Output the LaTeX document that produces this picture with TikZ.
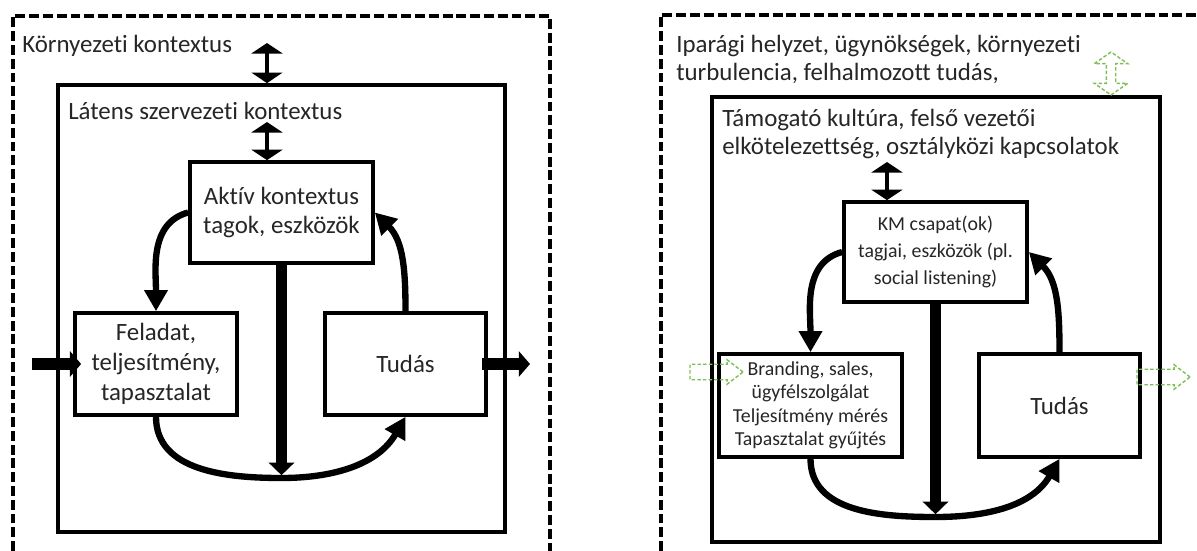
\documentclass[tikz,border=0pt]{standalone}
\usepackage{fontspec}
\setmainfont{Carlito}[Ligatures=NoCommon]
\usepackage{xcolor}
\definecolor{inkgray}{RGB}{38,38,38}
\definecolor{softgreen}{RGB}{125,190,85}
\usetikzlibrary{arrows.meta,shapes.arrows}
\newcommand{\MainSize}{\fontsize{17.7}{21.3}\selectfont}
\newcommand{\SmallSize}{\fontsize{14.1}{16.7}\selectfont}

\begin{document}
\begin{tikzpicture}[
  x=0.025cm, y=0.025cm,
  font=\MainSize, text=inkgray,
  % --- diagram style: edit visual look here ---------------------------
  frame/.style={draw=black, line width=2.6pt, dash pattern=on 7pt off 2.8pt},
  layer/.style={draw=black, line width=2.6pt, inner sep=0pt},
  stage/.style={draw=black, line width=2.6pt, fill=white, align=center,
                inner sep=2pt},
  ctx/.style={inner sep=0pt, align=left},
  flow/.style={line width=4.5pt, -{Triangle[width=16pt,length=15pt]}},
  feed/.style={line width=7.5pt, -{Triangle[width=18pt,length=9pt]}},
  link/.style={line width=3.5pt,
               {Triangle[width=22pt,length=7.5pt]}-{Triangle[width=22pt,length=7.5pt]}},
  io/.style={line width=8.5pt, -{Triangle[width=18pt,length=8pt]}},
  ghost/.style={draw=softgreen, line width=1pt,
                dash pattern=on 2.5pt off 1.5pt, inner xsep=0pt},
  % ---------------------------------------------------------------------
]
  \useasboundingbox (0,0) rectangle (1197,-551);

  % Left model — environment frame and latent context
  \draw[frame] (13,-551) -- (13,-16) -- (550,-16) -- (550,-551);
  \node[layer, minimum width=11.175cm, minimum height=11.175cm] (latL) at (281.5,-308.5) {};
  \node[ctx, anchor=base west] (envTxtL) at (22,-53) {Környezeti kontextus};
  \node[ctx, anchor=base west] (latTxtL) at (68,-120) {Látens szervezeti kontextus};

  % Left model — cycle boxes
  \node[stage, minimum width=4.575cm, minimum height=2.525cm] (act) at (281.5,-212.5)
    {Aktív kontextus\\tagok, eszközök};
  \node[stage, minimum width=4.05cm, minimum height=2.55cm] (task) at (156,-364)
    {Feladat,\\teljesítmény,\\tapasztalat};
  \node[stage, minimum width=4.025cm, minimum height=2.55cm] (knowL) at (405.5,-364) {Tudás};

  \coordinate (envL) at (267,-43);
  \coordinate (latArrL) at (267,-122);
  \coordinate (loopL) at (281.5,-478);
  \coordinate (inL) at (32,-364);
  \coordinate (outL) at (530,-364);

  % Left model — connectors
  \draw[link] (envL) -- (envL |- latL.north);
  \draw[link] (latArrL) -- (latArrL |- act.north);
  \draw[flow] (act.west) to[out=195,in=90] (task.north);
  \draw[flow] (knowL.north) to[out=90,in=-45] (act.east);
  \draw[flow] (task.south) to[out=-90,in=180] (loopL) to[out=0,in=-120] (knowL.south);
  \draw[feed, shorten >=2pt] (act.south) -- (loopL);
  \draw[io, shorten >=-0.2cm] (inL) -- (task.west);
  \draw[io, shorten <=-0.15cm] (knowL.east) -- (outL);

  % Right model — environment frame and organisational context
  \draw[frame] (661,-551) -- (661,-15) -- (1197,-15);
  \node[layer, minimum width=11.2cm, minimum height=11.125cm] (latR) at (936,-319.5) {};
  \node[ctx, anchor=north west, font=\fontsize{17.7}{19.6}\selectfont] (envTxtR) at (676,-35)
    {Iparági helyzet, ügynökségek, környezeti\\turbulencia, felhalmozott tudás,};
  \node[ctx, anchor=north west, font=\fontsize{17.7}{19.8}\selectfont] (supTxtR) at (722,-109)
    {Támogató kultúra, felső vezetői\\elkötelezettség, osztályközi kapcsolatok};

  % Right model — cycle boxes
  \node[stage, minimum width=4.575cm, minimum height=2.5cm,
        font=\fontsize{14.1}{19}\selectfont] (team) at (935.5,-252)
    {KM csapat(ok)\\tagjai, eszközök (pl.\\social listening)};
  \node[stage, minimum width=4.575cm, minimum height=2.575cm, font=\SmallSize] (brand) at (810.5,-405.5)
    {Branding, sales,\\ügyfélszolgálat\\Teljesítmény mérés\\Tapasztalat gyűjtés};
  \node[stage, minimum width=4.025cm, minimum height=2.575cm] (knowR) at (1059.5,-405.5) {Tudás};

  % Right model — dashed green hints
  \node[ghost, double arrow, rotate=90, inner ysep=0.1cm, minimum height=1.075cm,
        double arrow head extend=0.3cm, double arrow tip angle=110] (envLinkR) at (1111,-73.5) {};
  \node[ghost, single arrow, inner ysep=0.175cm, minimum height=1.325cm,
        single arrow head extend=0.1125cm, single arrow tip angle=75] (inR) at (711.5,-372) {};
  \node[ghost, single arrow, inner ysep=0.175cm, minimum height=1.325cm,
        single arrow head extend=0.1125cm, single arrow tip angle=75] (outR) at (1158.5,-377) {};

  \coordinate (supArrR) at (887,-162);
  \coordinate (loopR) at (935.5,-517);

  % Right model — connectors
  \draw[link] (supArrR) -- (supArrR |- team.north);
  \draw[flow] (team.west) to[out=195,in=90] (brand.north);
  \draw[flow] (knowR.north) to[out=90,in=-45] (team.east);
  \draw[flow] (brand.south) to[out=-90,in=180] (loopR) to[out=0,in=-120] (knowR.south);
  \draw[feed, shorten >=2pt] (team.south) -- (loopR);
\end{tikzpicture}
\end{document}
